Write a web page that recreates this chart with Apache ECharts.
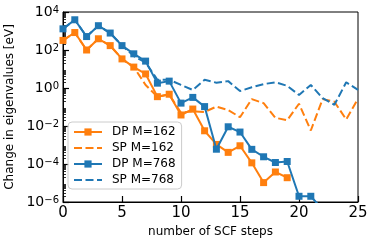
<!DOCTYPE html>
<html>
<head>
<meta charset="utf-8">
<script src="https://cdn.jsdelivr.net/npm/echarts@6/dist/echarts.min.js"></script>
<style>
html,body{margin:0;padding:0;background:#fff;}
#chart{width:374px;height:246px;}
</style>
</head>
<body>
<div id="chart"></div>
<script>
// SCF step numbers (x)
const scfSteps = [0,1,2,3,4,5,6,7,8,9,10,11,12,13,14,15,16,17,18,19,20,21,22,23,24,25];
// Change in eigenvalues [eV]
const dp162 = [3.2e2, 8.3e2, 1.0e2, 3.9e2, 1.7e2, 34, 12.6, 5.5, 0.35, 0.47, 0.038, 0.078, 5.6e-3, 1.07e-3, 4.1e-4, 9.1e-4, 1.15e-4, 1.05e-5, 3.8e-5, 1.9e-5];
const sp162 = [3.2e2, 8.3e2, 1.0e2, 3.9e2, 1.7e2, 34, 12.6, 1.45, 0.35, 0.45, 0.05, 0.06, 0.055, 0.105, 0.069, 0.029, 0.26, 0.16, 0.027, 0.020, 0.148, 5.8e-3, 0.26, 0.19, 0.022, 0.27];
const dp768 = [1.3e3, 3.9e3, 5.1e2, 1.9e3, 7.8e2, 1.7e2, 63, 26, 1.8, 2.3, 0.16, 0.32, 0.105, 6.0e-4, 9.1e-3, 4.8e-3, 5.9e-4, 2.4e-4, 1.2e-4, 1.35e-4, 2.0e-6, 2.0e-6, 4e-7];
const sp768 = [1.3e3, 3.9e3, 5.1e2, 1.9e3, 7.8e2, 1.7e2, 48, 22, 2.7, 2.7, 1.45, 0.79, 2.7, 1.9, 2.3, 0.69, 1.1, 1.6, 2.0, 1.3, 0.43, 1.45, 0.29, 0.13, 2.0, 0.79];
// axis ticks
const xTicks = [0, 5, 10, 15, 20, 25];
const yMajorTicks = [1e-6, 1e-4, 1e-2, 1e0, 1e2, 1e4];
const yMinorMultipliers = [2, 3, 4, 5, 6, 7, 8, 9];
const decades = [1e-6, 1e-5, 1e-4, 1e-3, 1e-2, 1e-1, 1e0, 1e1, 1e2, 1e3];
const seriesNames = ['DP M=162', 'SP M=162', 'DP M=768', 'SP M=768'];

const orange = '#ff7f0e', blue = '#1f77b4';
const font = 'DejaVu Sans';

function pairs(vals){ return vals.map((v,i)=>[scfSteps[i], v]); }

const yMinor = [];
decades.forEach(d => yMinorMultipliers.forEach(m => yMinor.push(d*m)));

function supLabel(v){
  const e = Math.round(Math.log10(v));
  return '{b|10}{s|' + String(e).replace('-', '\u2212') + '}';
}

const hiddenSym = {opacity: 0, color: 'rgba(0,0,0,0)', borderWidth: 0};

const chart = echarts.init(document.getElementById('chart'), null, {renderer:'canvas'});
const option = {
  animation: false,
  backgroundColor: '#fff',
  textStyle: {fontFamily: font},
  grid: {left: 63, right: 16, top: 12, bottom: 44, show: true, borderColor: '#000', borderWidth: 1, containLabel: false, outerBoundsMode: 'none'},
  legend: {
    left: 68, top: 122, orient: 'vertical',
    itemWidth: 28, itemHeight: 9, itemGap: 4,
    padding: [4, 6, 3, 5],
    backgroundColor: 'rgba(255,255,255,0.8)',
    borderColor: '#cccccc', borderWidth: 1, borderRadius: 4,
    textStyle: {fontFamily: font, fontSize: 12, color: '#000', padding: [0,0,0,5]},
    data: [
      {name: seriesNames[0]},
      {name: seriesNames[1], itemStyle: hiddenSym},
      {name: seriesNames[2]},
      {name: seriesNames[3], itemStyle: hiddenSym}
    ]
  },
  xAxis: {
    type: 'value', min: 0, max: 25, interval: 5,
    name: 'number of SCF steps', nameLocation: 'middle', nameGap: 22,
    nameTextStyle: {fontFamily: font, fontSize: 12, color: '#000'},
    axisLine: {show: true, lineStyle: {color: '#000', width: 1}},
    axisTick: {show: true, inside: true, length: 6, lineStyle: {color: '#000', width: 1.2}, customValues: xTicks},
    axisLabel: {color: '#000', fontSize: 15, fontFamily: font, margin: 4, customValues: xTicks},
    splitLine: {show: false}
  },
  yAxis: [{
    type: 'log', logBase: 10, min: 1e-6, max: 1e4,
    name: 'Change in eigenvalues [eV]', nameLocation: 'middle', nameGap: 44,
    nameTextStyle: {fontFamily: font, fontSize: 12, color: '#000'},
    axisLine: {show: true, lineStyle: {color: '#000', width: 1}},
    axisTick: {show: true, inside: true, length: 6, lineStyle: {color: '#000', width: 1.2}, customValues: yMajorTicks},
    axisLabel: {
      customValues: yMajorTicks,
      margin: 4,
      formatter: supLabel,
      rich: {
        b: {fontFamily: font, fontSize: 14, color: '#000', verticalAlign: 'bottom', lineHeight: 14},
        s: {fontFamily: font, fontSize: 10, color: '#000', verticalAlign: 'top', lineHeight: 10, padding: [0,0,6,0]}
      }
    },
    splitLine: {show: false}
  }, {
    type: 'log', logBase: 10, min: 1e-6, max: 1e4, position: 'left',
    axisLine: {show: false},
    axisTick: {show: true, inside: true, length: 3, lineStyle: {color: '#000', width: 0.8}, customValues: yMinor},
    axisLabel: {show: false},
    splitLine: {show: false}
  }],
  series: [
    {name: seriesNames[0], type: 'line', data: pairs(dp162), color: orange, symbol: 'rect', symbolSize: 7,
     lineStyle: {width: 2, color: orange}, itemStyle: {color: orange}, z: 2},
    {name: seriesNames[1], type: 'line', data: pairs(sp162), color: orange, symbol: 'none',
     lineStyle: {width: 2, color: orange, type: [8, 3.5]}, z: 2},
    {name: seriesNames[2], type: 'line', data: pairs(dp768), color: blue, symbol: 'rect', symbolSize: 7,
     lineStyle: {width: 2, color: blue}, itemStyle: {color: blue}, z: 3},
    {name: seriesNames[3], type: 'line', data: pairs(sp768), color: blue, symbol: 'none',
     lineStyle: {width: 2, color: blue, type: [8, 3.5]}, z: 3}
  ]
};
chart.setOption(option);
</script>
</body>
</html>
